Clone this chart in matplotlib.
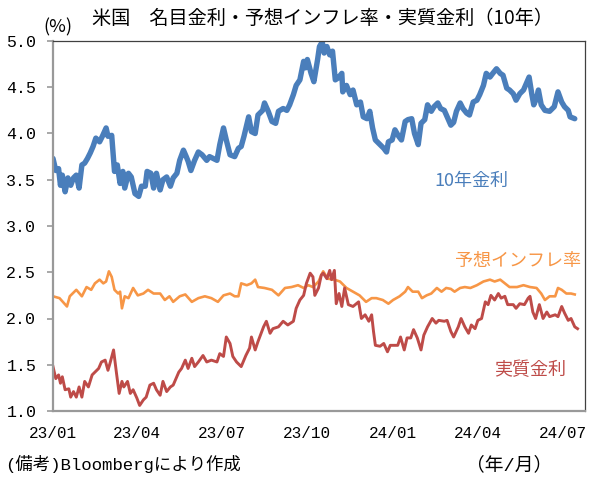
import matplotlib
matplotlib.use("Agg")
import matplotlib.pyplot as plt
import numpy as np
import pandas as pd

plt.rcParams['font.family'] = ['Noto Sans CJK JP', 'DejaVu Sans']
mono = ['Liberation Mono', 'Noto Sans CJK JP']

base = pd.Timestamp("2023-01-01")

# 10年金利 (day offset from 2023-01-01, %)
nom_day = [0, 3, 6, 8, 10, 13, 16, 19, 22, 25, 28, 31, 34, 37, 40, 43, 46, 50, 53, 57,
           59, 63, 66, 69, 72, 75, 77, 81, 84, 88, 92, 95, 99, 101, 105, 108, 111, 115, 118, 122,
           126, 129, 133, 136, 140, 143, 145, 148, 152, 156, 160, 165, 168, 172, 176, 179, 183, 186, 190, 195,
           199, 202, 205, 210, 213, 217, 220, 225, 227, 231, 235, 239, 242, 247, 251, 254, 258, 261, 265, 269,
           271, 273, 277, 280, 284, 286, 289, 291, 294, 297, 300, 303, 306, 310, 311, 315, 319, 322, 326, 330,
           333, 337, 340, 343, 346, 351, 355, 358, 360, 364, 367, 371, 374, 378, 381, 385, 388, 392, 395, 399,
           402, 406, 409, 413, 416, 420, 424, 427, 430, 433, 437, 440, 444, 447, 451, 455, 458, 462, 465, 469,
           472, 476, 480, 483, 487, 490, 494, 497, 501, 505, 508, 511, 514, 516, 519, 521, 524, 528, 533, 538,
           542, 546, 549, 553, 555, 560]
nom_val = [3.73, 3.60, 3.62, 3.44, 3.55, 3.37, 3.52, 3.44, 3.52, 3.55, 3.41, 3.66, 3.68, 3.73, 3.79, 3.86, 3.95, 3.91, 3.97, 4.06,
           3.97, 3.98, 3.59, 3.66, 3.46, 3.59, 3.41, 3.57, 3.53, 3.35, 3.32, 3.43, 3.43, 3.59, 3.57, 3.41, 3.57, 3.39, 3.50, 3.53,
           3.43, 3.52, 3.57, 3.71, 3.82, 3.75, 3.70, 3.60, 3.71, 3.80, 3.77, 3.71, 3.75, 3.73, 3.71, 3.88, 4.06, 3.93, 3.77, 3.75,
           3.84, 3.86, 3.97, 4.18, 4.02, 4.00, 4.20, 4.25, 4.33, 4.24, 4.13, 4.11, 4.24, 4.27, 4.25, 4.31, 4.42, 4.52, 4.58, 4.78,
           4.71, 4.80, 4.65, 4.56, 4.80, 4.94, 4.99, 4.87, 4.94, 4.85, 4.89, 4.58, 4.60, 4.65, 4.45, 4.52, 4.42, 4.47, 4.31, 4.34,
           4.18, 4.16, 4.24, 4.06, 3.93, 3.88, 3.84, 3.80, 3.91, 3.93, 4.04, 3.97, 3.93, 4.13, 4.15, 4.16, 4.00, 3.88, 4.11, 4.15,
           4.31, 4.24, 4.29, 4.33, 4.27, 4.25, 4.16, 4.09, 4.12, 4.24, 4.33, 4.27, 4.22, 4.20, 4.34, 4.36, 4.42, 4.52, 4.65, 4.61,
           4.65, 4.70, 4.65, 4.63, 4.49, 4.47, 4.43, 4.36, 4.43, 4.47, 4.54, 4.61, 4.42, 4.31, 4.38, 4.47, 4.31, 4.25, 4.24, 4.29,
           4.45, 4.34, 4.29, 4.25, 4.18, 4.16]

# 予想インフレ率
bei_day = [0, 7, 15, 18, 25, 31, 36, 41, 45, 50, 54, 57, 60, 63, 66, 70, 72, 74, 77, 81,
           86, 91, 97, 102, 108, 115, 120, 125, 129, 136, 142, 149, 156, 163, 170, 177, 183, 190, 195, 199,
           202, 208, 213, 217, 220, 227, 235, 242, 249, 256, 263, 269, 274, 279, 285, 288, 290, 295, 302, 308,
           315, 322, 329, 336, 342, 347, 354, 360, 365, 372, 378, 381, 386, 392, 396, 401, 406, 412, 417, 422,
           427, 431, 437, 442, 448, 455, 462, 469, 474, 480, 485, 490, 498, 505, 512, 519, 524, 528, 533, 539,
           542, 546, 551, 556, 560]
bei_val = [2.24, 2.22, 2.13, 2.24, 2.31, 2.24, 2.34, 2.31, 2.38, 2.42, 2.38, 2.40, 2.51, 2.45, 2.31, 2.27, 2.29, 2.11, 2.24, 2.22,
           2.33, 2.25, 2.27, 2.31, 2.27, 2.27, 2.20, 2.24, 2.18, 2.24, 2.26, 2.18, 2.22, 2.24, 2.22, 2.18, 2.25, 2.27, 2.24, 2.24,
           2.38, 2.36, 2.38, 2.42, 2.34, 2.33, 2.31, 2.25, 2.33, 2.34, 2.36, 2.33, 2.36, 2.34, 2.40, 2.47, 2.51, 2.43, 2.42, 2.40,
           2.33, 2.29, 2.25, 2.18, 2.22, 2.22, 2.20, 2.16, 2.20, 2.24, 2.29, 2.34, 2.29, 2.29, 2.22, 2.25, 2.27, 2.33, 2.29, 2.33,
           2.32, 2.29, 2.33, 2.34, 2.33, 2.36, 2.40, 2.42, 2.40, 2.42, 2.38, 2.34, 2.34, 2.36, 2.34, 2.33, 2.27, 2.20, 2.24, 2.24,
           2.33, 2.31, 2.27, 2.27, 2.26]

# 実質金利
real_day = [0, 3, 6, 8, 10, 13, 17, 19, 22, 25, 28, 31, 34, 38, 42, 45, 49, 52, 56, 59,
            61, 65, 68, 71, 74, 76, 80, 83, 86, 90, 93, 97, 100, 104, 108, 111, 115, 118, 122, 126,
            129, 135, 138, 142, 145, 149, 152, 156, 161, 165, 170, 176, 179, 183, 186, 190, 193, 197, 202, 207,
            211, 213, 217, 220, 226, 229, 233, 236, 242, 247, 252, 258, 261, 265, 269, 272, 276, 279, 281, 285,
            288, 290, 294, 297, 299, 302, 304, 307, 310, 313, 317, 322, 328, 331, 335, 339, 342, 344, 346, 351,
            355, 359, 362, 370, 373, 377, 380, 384, 387, 391, 395, 398, 402, 407, 411, 414, 420, 423, 427, 430,
            435, 438, 442, 446, 449, 453, 456, 460, 464, 467, 470, 474, 478, 481, 485, 488, 494, 497, 501, 506,
            510, 512, 515, 518, 522, 526, 530, 533, 539, 542, 546, 549, 553, 556, 560, 563]
real_val = [1.48, 1.35, 1.39, 1.30, 1.37, 1.23, 1.24, 1.15, 1.21, 1.15, 1.26, 1.15, 1.32, 1.26, 1.39, 1.42, 1.46, 1.53, 1.55, 1.44,
            1.51, 1.66, 1.42, 1.19, 1.32, 1.26, 1.32, 1.19, 1.23, 1.14, 1.06, 1.12, 1.15, 1.28, 1.30, 1.23, 1.17, 1.32, 1.21, 1.26,
            1.28, 1.42, 1.46, 1.55, 1.46, 1.57, 1.48, 1.53, 1.60, 1.53, 1.55, 1.53, 1.62, 1.59, 1.80, 1.73, 1.59, 1.53, 1.48, 1.60,
            1.68, 1.80, 1.66, 1.75, 1.91, 1.97, 1.84, 1.89, 1.91, 1.97, 1.93, 1.97, 2.11, 2.20, 2.25, 2.38, 2.49, 2.45, 2.25, 2.33,
            2.47, 2.49, 2.43, 2.52, 2.42, 2.52, 2.16, 2.27, 2.13, 2.33, 2.15, 2.13, 2.18, 2.00, 2.04, 1.97, 2.04, 1.86, 1.71, 1.70,
            1.73, 1.64, 1.71, 1.71, 1.80, 1.66, 1.79, 1.79, 1.88, 1.79, 1.66, 1.82, 1.91, 2.00, 1.95, 1.98, 1.97, 1.98, 1.86, 1.80,
            1.91, 2.00, 1.91, 1.84, 1.93, 1.89, 1.98, 2.00, 2.18, 2.15, 2.25, 2.20, 2.27, 2.22, 2.24, 2.15, 2.15, 2.11, 2.16, 2.15,
            2.22, 2.24, 2.07, 2.00, 2.15, 2.00, 2.07, 2.02, 2.04, 2.02, 2.13, 2.06, 1.98, 2.00, 1.91, 1.89]

tick_dates = ["2023-01-01", "2023-04-01", "2023-07-01", "2023-10-01",
              "2024-01-01", "2024-04-01", "2024-07-01"]
tick_labels = ["23/01", "23/04", "23/07", "23/10", "24/01", "24/04", "24/07"]
y_ticks = [1.0, 1.5, 2.0, 2.5, 3.0, 3.5, 4.0, 4.5, 5.0]

c_nom = "#4A7EBB"
c_bei = "#F79646"
c_real = "#BE4B48"


def to_dates(days):
    return base + pd.to_timedelta(days, unit="D")


fig = plt.figure(figsize=(5.96, 4.82), dpi=100)
ax = fig.add_axes([53 / 596, 1 - 411 / 482, 532 / 596, 370 / 482])

ax.plot(to_dates(bei_day), bei_val, color=c_bei, lw=1.9, solid_joinstyle="round")
ax.plot(to_dates(real_day), real_val, color=c_real, lw=2.1, solid_joinstyle="round")
ax.plot(to_dates(nom_day), nom_val, color=c_nom, lw=3.9, solid_joinstyle="round",
        solid_capstyle="round")

ax.set_xlim(base, base + pd.Timedelta(days=571))
ax.set_ylim(1.0, 5.0)
ax.set_yticks(y_ticks)
ax.set_yticklabels([f"{v:.1f}" for v in y_ticks], family=mono)
ax.set_xticks(pd.to_datetime(tick_dates))
ax.set_xticklabels(tick_labels, family=mono)

for s in ["top", "right"]:
    ax.spines[s].set_color("#404040")
    ax.spines[s].set_linewidth(0.9)
for s in ["left", "bottom"]:
    ax.spines[s].set_color("#999999")
    ax.spines[s].set_linewidth(1.6)

ax.tick_params(axis="y", direction="out", length=4, width=1.2, color="#999999",
               labelsize=12, pad=8)
ax.tick_params(axis="x", length=0, labelsize=11.5, pad=11)

fig.text(322 / 596, 1 - 18 / 482, "米国　名目金利・予想インフレ率・実質金利（10年）",
         ha="center", va="center", fontsize=13.8)
fig.text(58 / 596, 1 - 27 / 482, "(%)", ha="center", va="center", fontsize=13)

ax.text(base + pd.Timedelta(days=449), 3.49, "10年金利",
        color=c_nom, ha="center", va="center", fontsize=13)
ax.text(base + pd.Timedelta(days=499), 2.62, "予想インフレ率",
        color=c_bei, ha="center", va="center", fontsize=13)
ax.text(base + pd.Timedelta(days=512), 1.44, "実質金利",
        color=c_real, ha="center", va="center", fontsize=13)

fig.text(5 / 596, 1 - 464 / 482, "(備考)Bloombergにより作成", ha="left", va="center",
         fontsize=12.5, family=mono)
fig.text(509 / 596, 1 - 465 / 482, "（年/月）", ha="center", va="center", fontsize=13.5,
         family=mono)

fig.savefig("out.png", dpi=100)
